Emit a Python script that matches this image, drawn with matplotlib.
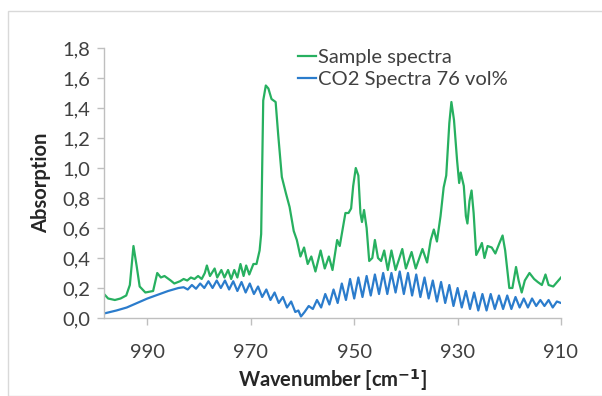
import matplotlib
matplotlib.use("Agg")
import matplotlib.pyplot as plt
from matplotlib.patches import Rectangle
from matplotlib.ticker import FuncFormatter

# ---- data ----
sample_x = [998.4, 997.6, 996.3, 995.2, 994.1, 993.4, 992.7, 992.1, 991.5, 990.4, 988.9, 988.1,
            987.4, 986.7, 985.5, 984.8, 983.7, 983.0, 982.3, 981.6, 980.9, 980.2, 979.5,
            978.9, 978.5, 977.9, 977.0, 976.5, 975.7, 975.1, 974.4, 973.8, 973.2, 972.6,
            972.0, 971.4, 970.9, 970.3, 969.5, 968.9, 968.3, 968.0, 967.6, 967.1, 966.6,
            966.0, 965.2, 964.7, 964.0, 963.2, 962.5, 961.7, 961.1, 960.4, 959.7, 959.0,
            958.3, 957.5, 956.5, 955.7, 954.9, 954.2, 953.3, 952.8, 952.3, 951.7, 951.1,
            950.6, 950.2, 949.7, 949.2, 948.8, 948.5, 948.1, 947.6, 947.1, 946.5, 946.0,
            945.4, 944.8, 944.2, 943.5, 942.8, 942.0, 940.7, 940.0, 938.9, 938.1, 936.8,
            935.9, 935.2, 934.6, 934.0, 933.3, 932.7, 932.2, 931.6, 931.2, 930.7, 930.1,
            929.7, 929.4, 928.8, 928.4, 928.1, 927.7, 927.3, 926.9, 926.4, 925.8, 925.3,
            924.8, 924.2, 923.4, 922.7, 921.9, 921.3, 920.8, 920.0, 919.4, 918.7, 918.2,
            917.6, 917.0, 916.1, 915.2, 914.5, 913.7, 913.0, 912.4, 911.5, 910.0]
sample_y = [0.16, 0.13, 0.12, 0.13, 0.15, 0.22, 0.48, 0.35, 0.21, 0.17, 0.18, 0.30,
            0.27, 0.28, 0.25, 0.23, 0.245, 0.26, 0.25, 0.27, 0.26, 0.28, 0.26,
            0.30, 0.35, 0.28, 0.33, 0.27, 0.32, 0.27, 0.32, 0.26, 0.32, 0.27,
            0.36, 0.28, 0.35, 0.29, 0.36, 0.36, 0.45, 0.56, 1.45, 1.55, 1.53,
            1.46, 1.44, 1.22, 0.94, 0.83, 0.74, 0.58, 0.52, 0.41, 0.47, 0.36,
            0.41, 0.31, 0.45, 0.33, 0.41, 0.32, 0.52, 0.48, 0.58, 0.70, 0.70,
            0.73, 0.88, 1.00, 0.95, 0.70, 0.64, 0.72, 0.60, 0.38, 0.40, 0.52,
            0.40, 0.38, 0.45, 0.32, 0.45, 0.32, 0.46, 0.33, 0.44, 0.33, 0.46,
            0.37, 0.52, 0.59, 0.51, 0.68, 0.87, 0.95, 1.30, 1.44, 1.32, 1.05,
            0.90, 0.97, 0.88, 0.68, 0.63, 0.78, 0.85, 0.70, 0.42, 0.46, 0.50,
            0.40, 0.48, 0.47, 0.43, 0.50, 0.55, 0.45, 0.20, 0.20, 0.34, 0.25,
            0.17, 0.25, 0.30, 0.26, 0.24, 0.22, 0.29, 0.22, 0.21, 0.27]

co2_x = [998.4, 996.0, 994.0, 992.0, 990.0, 988.0, 986.0, 984.0,
         983.0, 982.2, 981.4, 980.6, 979.8, 979.0, 978.2, 977.4, 976.6, 975.8, 975.0, 974.2,
         973.4, 972.6, 971.8, 971.0, 970.2, 969.4, 968.6, 967.8, 967.0, 966.2, 965.4, 964.6,
         963.8, 963.0, 962.2, 961.4, 960.8, 960.3, 959.6, 958.8, 958.0, 957.2, 956.4, 955.6,
         954.8, 954.0, 953.2, 952.4, 951.6, 950.8, 950.0, 949.2, 948.4, 947.6, 946.8, 946.0,
         945.2, 944.4, 943.6, 942.8, 942.0, 941.2, 940.4, 939.6, 938.8, 938.0, 937.2, 936.4,
         935.6, 934.8, 934.0, 933.2, 932.4, 931.6, 930.8, 930.0, 929.2, 928.4, 927.6, 926.8,
         926.0, 925.2, 924.4, 923.6, 922.8, 922.0, 921.2, 920.4, 919.6, 918.8, 918.0, 917.2,
         916.4, 915.6, 914.8, 914.0, 913.2, 912.4, 911.6, 910.8, 910.0]
co2_y = [0.03, 0.05, 0.07, 0.10, 0.13, 0.155, 0.18, 0.20,
         0.205, 0.19, 0.22, 0.195, 0.23, 0.20, 0.245, 0.20, 0.25, 0.20, 0.25, 0.19,
         0.245, 0.18, 0.24, 0.17, 0.23, 0.16, 0.21, 0.14, 0.19, 0.12, 0.17, 0.10,
         0.14, 0.07, 0.11, 0.04, 0.05, 0.01, 0.04, 0.08, 0.06, 0.12, 0.07, 0.16,
         0.09, 0.19, 0.10, 0.23, 0.12, 0.26, 0.13, 0.27, 0.14, 0.28, 0.15, 0.29,
         0.16, 0.30, 0.16, 0.30, 0.17, 0.31, 0.16, 0.30, 0.15, 0.29, 0.14, 0.27,
         0.13, 0.25, 0.11, 0.24, 0.10, 0.22, 0.08, 0.20, 0.07, 0.18, 0.06, 0.17,
         0.05, 0.16, 0.05, 0.16, 0.06, 0.15, 0.06, 0.15, 0.06, 0.14, 0.07, 0.13,
         0.07, 0.13, 0.08, 0.12, 0.08, 0.12, 0.07, 0.11, 0.10]

x_ticks = [990, 970, 950, 930, 910]
y_ticks = [0.0, 0.2, 0.4, 0.6, 0.8, 1.0, 1.2, 1.4, 1.6, 1.8]
series_labels = ["Sample spectra", "CO2 Spectra 76 vol%"]

plt.rcParams['font.family'] = ['Lato', 'DejaVu Sans']

W, H = 602, 396
FS = 14.5
fig = plt.figure(figsize=(W / 100, H / 100), dpi=100)
fig.patches.append(Rectangle((8 / W, 0), 1, 1 - 11 / H, transform=fig.transFigure,
                             fill=False, edgecolor='#d9d9d9', linewidth=1.0))

ax = fig.add_axes([104 / W, 1 - 318 / H, (561 - 104) / W, (318 - 48) / H])
green = '#27b060'
blue = '#2b7ccc'
ax.plot(sample_x, sample_y, color=green, linewidth=1.6, label=series_labels[0])
ax.plot(co2_x, co2_y, color=blue, linewidth=1.6, label=series_labels[1])

ax.set_xlim(998.4, 910)
ax.set_ylim(0, 1.8)
ax.set_xticks(x_ticks)
ax.set_yticks(y_ticks)
ax.yaxis.set_major_formatter(FuncFormatter(lambda v, p: f"{v:.1f}".replace('.', ',')))

for s in ['top', 'right']:
    ax.spines[s].set_visible(False)
for s in ['left', 'bottom']:
    ax.spines[s].set_color('#bfbfbf')
    ax.spines[s].set_linewidth(1.0)
ax.tick_params(axis='both', colors='#bfbfbf', labelcolor='#404040', labelsize=FS,
               length=5, width=1.0, direction='out')
ax.tick_params(axis='x', pad=14)
ax.tick_params(axis='y', pad=5)

ax.set_ylabel("Absorption", fontsize=FS, fontweight='bold', color='#262626', labelpad=8)
ax.set_xlabel("Wavenumber [cm$^{\\mathbf{-1}}$]", fontsize=FS, fontweight='bold',
              color='#262626', labelpad=4)

leg = ax.legend(loc='upper left', bbox_to_anchor=(298 / W, 1 - 49 / H),
                bbox_transform=fig.transFigure, frameon=False, fontsize=FS,
                handlelength=0.9, handletextpad=0.1, labelspacing=0.25,
                borderaxespad=0, borderpad=0)
for t in leg.get_texts():
    t.set_color('#404040')

fig.savefig("out.png", dpi=100)
